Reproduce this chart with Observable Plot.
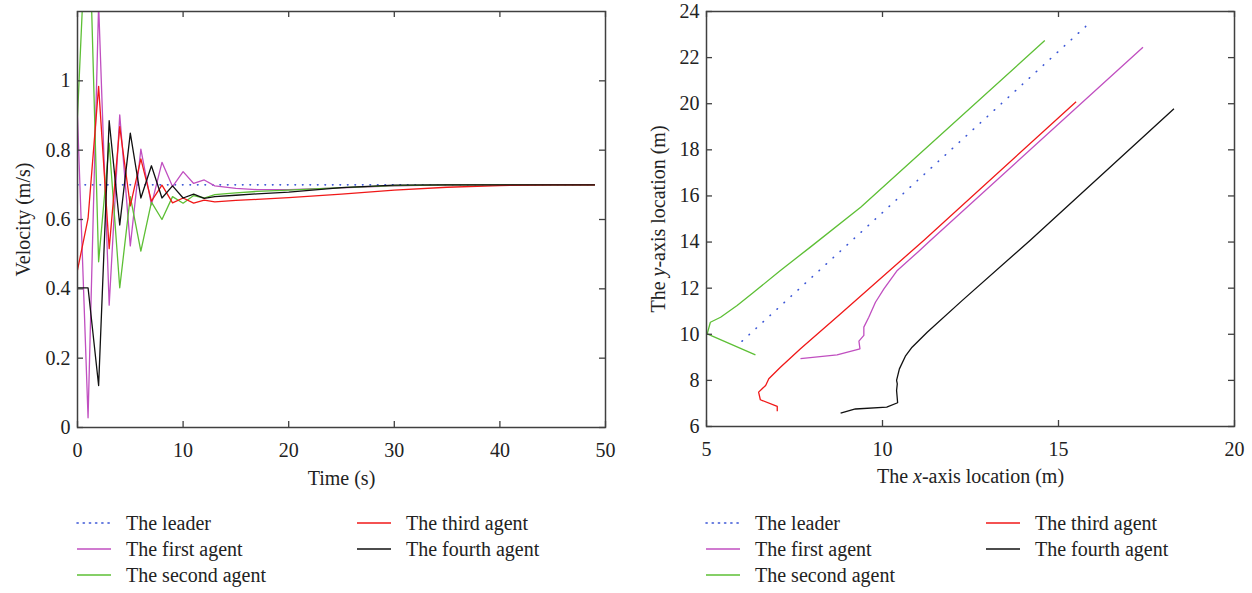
<!DOCTYPE html>
<html><head><meta charset="utf-8">
<script src="https://cdn.jsdelivr.net/npm/d3@7"></script>
<script src="https://cdn.jsdelivr.net/npm/@observablehq/plot@0.6"></script>
<style>
body{margin:0;background:#fff;font-family:"Liberation Serif","Tinos","DejaVu Serif",serif;}
#wrap{position:relative;width:1252px;height:593px;overflow:hidden;}
.panel{position:absolute;top:0;}
.item{position:absolute;display:flex;align-items:center;white-space:nowrap;font-size:20px;color:#222;height:24px;}
.item svg{margin-right:14px;}
</style></head><body><div id="wrap"></div>
<script>
// ---- series meta ----
const seriesNames = ["The leader","The first agent","The second agent","The third agent","The fourth agent"];
const seriesColors = ["#3a55d6","#c04fc0","#5dbf35","#f01818","#111111"];

// ---- left chart: velocity vs time ----
const velTicksX = [0,10,20,30,40,50];
const velTicksY = [0,0.2,0.4,0.6,0.8,1];
const leaderTime = [0,49];
const velLeader = [0.7,0.7];
const time = [0,1,2,3,4,5,6,7,8,9,10,11,12,13,15,17,20,25,30,35,40,45,49];
const velFirst  = [0.897,0.028,1.22,0.353,0.902,0.524,0.803,0.642,0.765,0.695,0.738,0.704,0.714,0.697,0.690,0.686,0.686,0.691,0.697,0.700,0.700,0.700,0.700];
const velSecond = [0.897,1.58,0.478,0.820,0.403,0.666,0.509,0.650,0.600,0.666,0.647,0.669,0.662,0.672,0.677,0.681,0.685,0.692,0.698,0.700,0.700,0.700,0.700];
const velThird  = [0.454,0.603,0.984,0.516,0.868,0.639,0.775,0.653,0.699,0.648,0.662,0.647,0.656,0.651,0.655,0.658,0.663,0.673,0.685,0.693,0.698,0.700,0.700];
const velFourth = [0.403,0.403,0.121,0.885,0.584,0.849,0.662,0.755,0.662,0.697,0.662,0.673,0.661,0.666,0.670,0.674,0.679,0.692,0.699,0.700,0.700,0.700,0.700];

// ---- right chart: trajectories ----
const posTicksX = [5,10,15,20];
const posTicksY = [6,8,10,12,14,16,18,20,22,24];
const posLeaderX = [6.01,15.80];
const posLeaderY = [9.70,23.39];
const posFirstX  = [7.67,8.71,9.36,9.33,9.47,9.47,9.61,9.80,10.04,10.42,11.00,11.36,17.40];
const posFirstY  = [8.94,9.11,9.37,9.70,9.95,10.31,10.74,11.39,11.97,12.77,13.56,14.07,22.45];
const posSecondX = [6.39,5.02,5.11,5.40,5.87,6.34,7.10,7.95,9.38,14.61];
const posSecondY = [9.11,10.02,10.52,10.74,11.25,11.82,12.77,13.78,15.51,22.74];
const posThirdX  = [7.01,7.01,6.53,6.48,6.68,6.77,7.10,7.67,8.81,11.17,15.50];
const posThirdY  = [6.66,6.87,7.16,7.49,7.78,8.07,8.57,9.37,10.89,14.07,20.09];
const posFourthX = [8.81,9.23,10.12,10.43,10.40,10.42,10.40,10.48,10.65,10.84,11.27,12.26,14.19,18.28];
const posFourthY = [6.58,6.76,6.84,7.03,7.56,7.85,8.00,8.50,9.05,9.44,10.09,11.46,14.07,19.78];

function rows(xs, ys){ return xs.map((x,i)=>({x, y: ys[i]})); }

const AX = "#404040";
const FONT = "'Liberation Serif', 'Tinos', 'DejaVu Serif', serif";

function panel({xs, ys, W, H, ml, mr, mt, mb, xDomain, yDomain, ticksX, ticksY, xLabel, yLabel, xLabelOffset, yLabelOffset, dash}) {
  const iw = W - ml - mr, ih = H - mt - mb, tl = 6;
  const marks = [];
  xs.forEach((sx, i) => {
    marks.push(Plot.line(rows(sx, ys[i]), {x:"x", y:"y", stroke: seriesColors[i], strokeWidth: i===0 ? 1.6 : 1.3,
      strokeDasharray: i===0 ? dash : null, strokeLinecap: i===0 ? "round" : "butt", clip: true}));
  });
  marks.push(
    Plot.tickX(ticksX, {x: d=>d, insetTop: ih - tl, stroke: AX, strokeWidth: 1.3}),
    Plot.tickX(ticksX, {x: d=>d, insetBottom: ih - tl, stroke: AX, strokeWidth: 1.3}),
    Plot.tickY(ticksY, {y: d=>d, insetRight: iw - tl, stroke: AX, strokeWidth: 1.3}),
    Plot.tickY(ticksY, {y: d=>d, insetLeft: iw - tl, stroke: AX, strokeWidth: 1.3}),
    Plot.axisX(ticksX, {tickSize: 0, tickPadding: 15, tickFormat: d=>String(d), fontSize: 20, fill: "#222",
      label: xLabel, labelAnchor: "center", labelOffset: xLabelOffset, labelArrow: "none"}),
    Plot.axisY(ticksY, {tickSize: 0, tickPadding: 7, tickFormat: d=>String(d), fontSize: 20, fill: "#222",
      label: yLabel, labelAnchor: "center", labelOffset: yLabelOffset, labelArrow: "none"}),
    Plot.frame({stroke: AX, strokeWidth: 1.5})
  );
  return Plot.plot({
    width: W, height: H, marginLeft: ml, marginRight: mr, marginTop: mt, marginBottom: mb,
    x: {domain: xDomain}, y: {domain: yDomain},
    style: {fontFamily: FONT, fontSize: "20px", background: "white", color: "#222", overflow: "visible"},
    marks
  });
}

function italicize(svg, full, word) {
  const walker = document.createTreeWalker(svg, NodeFilter.SHOW_TEXT);
  const hits = [];
  while (walker.nextNode()) if (walker.currentNode.nodeValue === full) hits.push(walker.currentNode);
  hits.forEach(node => {
    const idx = full.indexOf(word);
    const parent = node.parentNode;
    const before = document.createTextNode(full.slice(0, idx));
    const ts = document.createElementNS("http://www.w3.org/2000/svg", "tspan");
    ts.setAttribute("font-style", "italic");
    ts.textContent = word;
    const after = document.createTextNode(full.slice(idx + word.length));
    parent.insertBefore(before, node);
    parent.insertBefore(ts, node);
    parent.insertBefore(after, node);
    parent.removeChild(node);
  });
}

function legend(container, frameLeft) {
  const pos = [[0,0],[0,1],[0,2],[1,0],[1,1]];
  const rowsY = [523, 549, 575];
  seriesNames.forEach((name, i) => {
    const [c, r] = pos[i];
    const d = document.createElement("div");
    d.className = "item";
    d.style.left = (frameLeft - 1 + c * 280) + "px";
    d.style.top = (rowsY[r] - 12) + "px";
    const dash = i === 0 ? 'stroke-dasharray="1.2,5" stroke-linecap="round"' : '';
    d.innerHTML = `<svg width="36" height="24"><line x1="1" y1="12" x2="35" y2="12" stroke="${seriesColors[i]}" stroke-width="${i===0?1.6:1.4}" ${dash}/></svg><span>${name}</span>`;
    container.appendChild(d);
  });
}

const wrap = document.getElementById("wrap");

const left = panel({
  xs: [leaderTime, time, time, time, time],
  ys: [velLeader, velFirst, velSecond, velThird, velFourth],
  W: 626, H: 500, ml: 77, mr: 21, mt: 11, mb: 73,
  xDomain: [0,50], yDomain: [0,1.2], ticksX: velTicksX, ticksY: velTicksY,
  xLabel: "Time (s)", yLabel: "Velocity (m/s)", xLabelOffset: 57, yLabelOffset: 62, dash: "0.5,7"
});
const lp = document.createElement("div"); lp.className = "panel"; lp.style.left = "0px"; lp.appendChild(left); wrap.appendChild(lp);

const right = panel({
  xs: [posLeaderX, posFirstX, posSecondX, posThirdX, posFourthX],
  ys: [posLeaderY, posFirstY, posSecondY, posThirdY, posFourthY],
  W: 626, H: 500, ml: 80, mr: 18, mt: 11, mb: 74,
  xDomain: [5,20], yDomain: [6,24], ticksX: posTicksX, ticksY: posTicksY,
  xLabel: "The x-axis location (m)", yLabel: "The y-axis location (m)", xLabelOffset: 56, yLabelOffset: 56, dash: "0.5,9"
});
const rp = document.createElement("div"); rp.className = "panel"; rp.style.left = "626px"; rp.appendChild(right); wrap.appendChild(rp);
italicize(right, "The x-axis location (m)", "x");
italicize(right, "The y-axis location (m)", "y");

legend(wrap, 77);
legend(wrap, 706);
</script></body></html>
